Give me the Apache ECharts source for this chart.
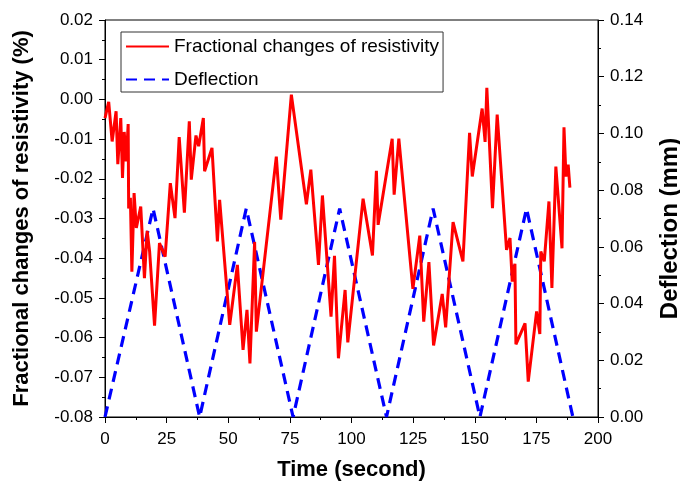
<!DOCTYPE html>
<html>
<head>
<meta charset="utf-8">
<script src="https://cdn.jsdelivr.net/npm/echarts@6/dist/echarts.min.js"></script>
<style>
  html, body { margin: 0; padding: 0; background: #fff; }
  #chart { width: 680px; height: 486px; }
</style>
</head>
<body>
<div id="chart"></div>
<script>
// resistivity trace
const resTime = [0, 1.5, 2.9, 4.5, 5.2, 6.4, 7.1, 7.8, 8.6, 9.4, 9.6, 10.3, 10.9, 11.8, 12.7, 14.5, 16.0, 17.1, 18.1, 20.1,
    22.1, 24.4, 26.5, 28.4, 30.1, 32.2, 34.2, 35.0, 36.9, 38.0, 39.9, 40.4, 43.4, 45.6, 46.5, 50.6, 53.7, 56.0, 57.6, 58.8,
    60.7, 61.4, 69.5, 71.3, 75.6, 81.7, 83.5, 86.6, 88.2, 91.7, 93.1, 94.7, 97.4, 98.5, 104.7, 108.5, 110.1, 110.8, 116.5, 117.3,
    119.2, 124.9, 127.7, 129.3, 131.4, 133.3, 136.8, 138.2, 141.2, 145.2, 147.9, 149.0, 153.0, 154.2, 154.9, 157.2, 159.1, 162.9, 164.3, 165.2,
    166.3, 166.7, 170.4, 171.7, 175.1, 176.4, 176.8, 178.2, 180.1, 181.3, 182.9, 185.4, 186.2, 187.0, 187.9, 188.6];
const resValue = [-0.0047, -0.0006, -0.0106, -0.0030, -0.0163, -0.0047, -0.0198, -0.0082, -0.0156, -0.0062, -0.0275, -0.0248, -0.0434, -0.0236, -0.0324, -0.0270, -0.0450, -0.0331, -0.0383, -0.0570,
    -0.0362, -0.0396, -0.0211, -0.0299, -0.0095, -0.0285, -0.0055, -0.0202, -0.0091, -0.0118, -0.0047, -0.0181, -0.0122, -0.0358, -0.0253, -0.0568, -0.0417, -0.0631, -0.0530, -0.0665,
    -0.0359, -0.0585, -0.0144, -0.0303, 0.0012, -0.0264, -0.0177, -0.0417, -0.0242, -0.0547, -0.0394, -0.0652, -0.0480, -0.0612, -0.0250, -0.0393, -0.0180, -0.0316, -0.0099, -0.0240,
    -0.0099, -0.0477, -0.0343, -0.0560, -0.0410, -0.0620, -0.0490, -0.0574, -0.0309, -0.0408, -0.0084, -0.0194, -0.0023, -0.0107, 0.0029, -0.0274, -0.0038, -0.0379, -0.0349, -0.0459,
    -0.0414, -0.0617, -0.0564, -0.0711, -0.0534, -0.0591, -0.0383, -0.0408, -0.0257, -0.0475, -0.0169, -0.0375, -0.0070, -0.0194, -0.0164, -0.0222];

// deflection (triangle wave corners)
const defTime = [0, 19.5, 38.4, 57.3, 76.3, 95.2, 114.2, 133.1, 152.1, 171.0, 189.8];
const defValue = [0, 0.0735, 0, 0.0735, 0, 0.0735, 0, 0.0735, 0, 0.0735, 0];

const resData = resTime.map((t, i) => [t, resValue[i]]);
const defData = defTime.map((t, i) => [t, defValue[i]]);

const font = 'Arial, "Liberation Sans", sans-serif';

var chart = echarts.init(document.getElementById('chart'));
option = {
    animation: false,
    textStyle: { fontFamily: font },
    grid: {
        left: 105, right: 82, top: 20, bottom: 69,
        outerBoundsMode: 'none',
        show: true, borderColor: '#000', borderWidth: 1
    },
    legend: {
        orient: 'vertical',
        left: 121, top: 32,
        padding: [5, 4, 3, 4],
        itemGap: 14,
        itemWidth: 43,
        itemHeight: 14,
        borderColor: '#333',
        borderWidth: 1,
        itemStyle: { opacity: 0 },
        textStyle: { fontSize: 19, color: '#000', fontFamily: font },
        data: ['Fractional changes of resistivity', 'Deflection']
    },
    xAxis: {
        type: 'value',
        min: 0, max: 200, interval: 25,
        name: 'Time (second)',
        nameLocation: 'middle',
        nameGap: 42,
        nameTextStyle: { fontSize: 22, fontWeight: 'bold', color: '#000' },
        axisLine: { onZero: false, lineStyle: { color: '#000', width: 1 } },
        axisTick: { length: 6, lineStyle: { color: '#000' } },
        minorTick: { show: true, splitNumber: 2, length: 3, lineStyle: { color: '#000' } },
        axisLabel: { fontSize: 17, color: '#000', margin: 14 },
        splitLine: { show: false }
    },
    yAxis: [{
        type: 'value',
        min: -0.08, max: 0.02, interval: 0.01,
        name: 'Fractional changes of resistivity (%)',
        nameLocation: 'middle',
        nameGap: 72,
        nameTextStyle: { fontSize: 22, fontWeight: 'bold', color: '#000' },
        axisLine: { show: true, onZero: false, lineStyle: { color: '#000', width: 1 } },
        axisTick: { show: true, length: 6, lineStyle: { color: '#000' } },
        minorTick: { show: true, splitNumber: 2, length: 3, lineStyle: { color: '#000' } },
        axisLabel: { fontSize: 17, color: '#000', margin: 12, formatter: v => v.toFixed(2) },
        splitLine: { show: false }
    }, {
        type: 'value',
        position: 'right',
        min: 0, max: 0.14, interval: 0.02,
        name: 'Deflection (mm)',
        nameLocation: 'middle',
        nameGap: 60,
        nameTextStyle: { fontSize: 24, fontWeight: 'bold', color: '#000', padding: [0, 20, 0, 0] },
        axisLine: { show: true, onZero: false, lineStyle: { color: '#000', width: 1 } },
        axisTick: { show: true, length: 6, lineStyle: { color: '#000' } },
        minorTick: { show: true, splitNumber: 2, length: 3, lineStyle: { color: '#000' } },
        axisLabel: { fontSize: 17, color: '#000', margin: 12, formatter: v => v.toFixed(2) },
        splitLine: { show: false }
    }],
    series: [{
        name: 'Deflection',
        type: 'line',
        yAxisIndex: 1,
        symbol: 'none',
        data: defData,
        lineStyle: { color: '#0000ff', width: 3.2, type: [11, 7] },
        itemStyle: { color: '#0000ff' }
    }, {
        name: 'Fractional changes of resistivity',
        type: 'line',
        yAxisIndex: 0,
        symbol: 'none',
        data: resData,
        lineStyle: { color: '#ff0000', width: 3 },
        itemStyle: { color: '#ff0000' }
    }]
};
chart.setOption(option);
</script>
</body>
</html>
